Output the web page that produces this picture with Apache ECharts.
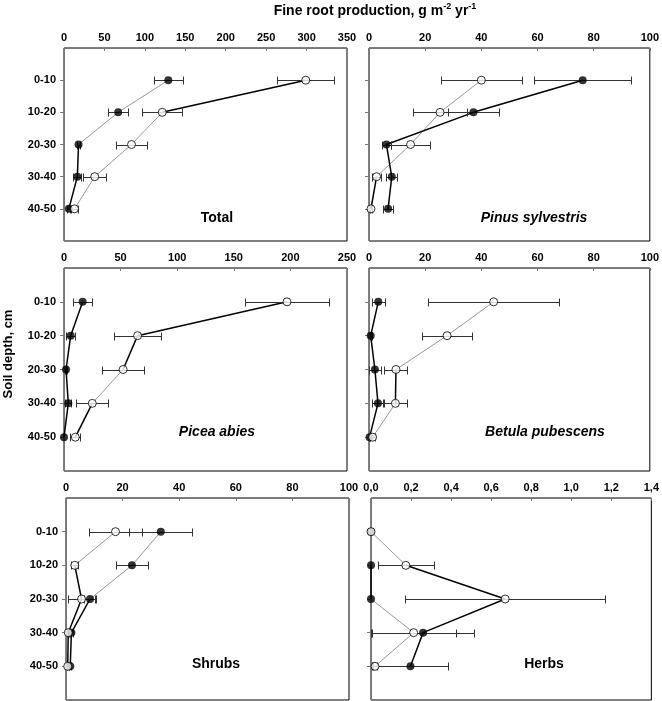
<!DOCTYPE html>
<html>
<head>
<meta charset="utf-8">
<script src="https://cdn.jsdelivr.net/npm/echarts@6/dist/echarts.min.js"></script>
<style>
html,body{margin:0;padding:0;background:#fff;}
#c{width:662px;height:701px;}
</style>
</head>
<body>
<div id="c"></div>
<script>
// ---- data ----
const depths = ['0-10', '10-20', '20-30', '30-40', '40-50'];

const totalFilled = [129, 67, 18, 16.5, 6];
const totalFilledSE = [18, 12, 2, 5, 2];
const totalOpen = [299, 121.5, 83.5, 38, 13];
const totalOpenSE = [35, 24.5, 19.5, 14, 4];

const pinusFilled = [76.1, 37.2, 6.2, 8.1, 6.8];
const pinusFilledSE = [17.2, 9.1, 1.7, 2, 1.9];
const pinusOpen = [40, 25.3, 14.8, 2.7, 0.7];
const pinusOpenSE = [14.5, 9.5, 7, 1.5, 0.5];

const piceaFilled = [16.5, 5.9, 1.8, 3.8, 0];
const piceaFilledSE = [8.6, 4, 0.5, 2.5, 0];
const piceaOpen = [197, 65, 52.2, 25, 10];
const piceaOpenSE = [37, 20.8, 18.6, 14, 4.5];

const betulaFilled = [3.3, 0.6, 2.1, 3.2, 0.2];
const betulaFilledSE = [2.4, 0.3, 2, 2.2, 0.1];
const betulaOpen = [44.4, 27.8, 9.6, 9.4, 1.3];
const betulaOpenSE = [23.4, 8.8, 4.1, 4.3, 0.8];

const shrubsFilled = [33.5, 23.3, 8.5, 1.9, 1.5];
const shrubsFilledSE = [11.1, 5.5, 2.2, 0.5, 0.4];
const shrubsOpen = [17.5, 3.1, 5.5, 0.8, 0.6];
const shrubsOpenSE = [9.5, 1.25, 4.7, 0.4, 0.3];

const herbsFilled = [0, 0, 0, 0.26, 0.197];
const herbsFilledSE = [0, 0, 0, 0.255, 0.19];
const herbsOpen = [0, 0.174, 0.67, 0.213, 0.02];
const herbsOpenSE = [0, 0.139, 0.5, 0.212, 0.01];

// x-axis ticks
const totalTicks = {max: 350, interval: 50};
const pinusTicks = {max: 100, interval: 20};
const piceaTicks = {max: 250, interval: 50};
const betulaTicks = {max: 100, interval: 20};
const shrubsTicks = {max: 100, interval: 20};
const herbsTicks = {max: 1.4, interval: 0.2};

// ---- panel layout / connection styles ----
const panels = [
  {name: 'Total', italic: false, f: totalFilled, fe: totalFilledSE, o: totalOpen, oe: totalOpenSE, ax: totalTicks,
   grid: {left: 64, top: 48, width: 283, height: 193}, label: [217, 218], showY: true,
   thick: [['o0','o1'], ['f2','f3','f4']], thin: [['f0','f1','f2'], ['o1','o2','o3','o4']]},
  {name: 'Pinus sylvestris', italic: true, f: pinusFilled, fe: pinusFilledSE, o: pinusOpen, oe: pinusOpenSE, ax: pinusTicks,
   grid: {left: 369, top: 48, width: 283, height: 193}, label: [534, 218], showY: false,
   thick: [['f0','f1','f2','f3','f4'], ['o3','o4']], thin: [['o0','o1','o2','o3']]},
  {name: 'Picea abies', italic: true, f: piceaFilled, fe: piceaFilledSE, o: piceaOpen, oe: piceaOpenSE, ax: piceaTicks,
   grid: {left: 64, top: 268, width: 283, height: 203}, label: [217, 432], showY: true,
   thick: [['f0','f1','f2','f3','f4'], ['o0','o1','o2'], ['o3','o4']], thin: [['o2','o3']]},
  {name: 'Betula pubescens', italic: true, f: betulaFilled, fe: betulaFilledSE, o: betulaOpen, oe: betulaOpenSE, ax: betulaTicks,
   grid: {left: 369, top: 268, width: 283, height: 203}, label: [545, 432], showY: false,
   thick: [['f0','f1','f2','f3','f4'], ['o2','o3']], thin: [['o0','o1','o2'], ['o3','o4']]},
  {name: 'Shrubs', italic: false, f: shrubsFilled, fe: shrubsFilledSE, o: shrubsOpen, oe: shrubsOpenSE, ax: shrubsTicks,
   grid: {left: 66, top: 498, width: 283, height: 202}, label: [216, 664], showY: true,
   thick: [['o1','o2','o3','o4'], ['f2','f3','f4']], thin: [['o0','o1'], ['f0','f1','f2']]},
  {name: 'Herbs', italic: false, f: herbsFilled, fe: herbsFilledSE, o: herbsOpen, oe: herbsOpenSE, ax: herbsTicks,
   grid: {left: 371, top: 498, width: 282, height: 202}, label: [544, 664], showY: false,
   thick: [['o1','o2','f3','f4'], ['f1','f2']], thin: [['o0','o1'], ['f2','o3','o4']]}
];

const FONT = 'Liberation Sans, Arial, sans-serif';
const AXIS_GRAY = '#777';
const grids = [], xAxes = [], yAxes = [], series = [], graphics = [];

function errRender(params, api) {
  const m = api.value(0), y = api.value(1), e = api.value(2);
  if (!e) return null;
  const p1 = api.coord([m - e, y]);
  const p2 = api.coord([m + e, y]);
  const yy = Math.round(p1[1]) + 0.5;
  const x1 = Math.round(p1[0]) + 0.5, x2 = Math.round(p2[0]) + 0.5;
  const h = 4;
  const st = {stroke: '#333', lineWidth: 1};
  return {type: 'group', children: [
    {type: 'line', shape: {x1: x1, y1: yy, x2: x2, y2: yy}, style: st},
    {type: 'line', shape: {x1: x1, y1: yy - h, x2: x1, y2: yy + h}, style: st},
    {type: 'line', shape: {x1: x2, y1: yy - h, x2: x2, y2: yy + h}, style: st}
  ]};
}

panels.forEach((p, i) => {
  grids.push(Object.assign({show: true, borderColor: '#000', borderWidth: 1, backgroundColor: 'transparent'}, p.grid));
  const isHerb = p.ax.max < 10;
  xAxes.push({
    gridIndex: i, type: 'value', position: 'top', min: 0, max: p.ax.max, interval: p.ax.interval,
    axisLine: {show: true, onZero: false, lineStyle: {color: AXIS_GRAY, width: 1}},
    axisTick: {show: true, inside: true, length: 3, lineStyle: {color: AXIS_GRAY}},
    axisLabel: {show: true, fontSize: 11, fontWeight: 'bold', fontFamily: FONT, color: '#000', margin: 5,
      showMinLabel: true, showMaxLabel: true,
      formatter: v => isHerb ? v.toFixed(1).replace('.', ',') : String(Math.round(v))},
    splitLine: {show: false}
  });
  yAxes.push({
    gridIndex: i, type: 'value', min: 0, max: 6, interval: 1, inverse: true,
    axisLine: {show: true, onZero: false, lineStyle: {color: AXIS_GRAY, width: 1}},
    axisTick: {show: true, length: 4, customValues: [1, 2, 3, 4, 5], lineStyle: {color: AXIS_GRAY}},
    axisLabel: {show: p.showY, customValues: [1, 2, 3, 4, 5], fontSize: 11, fontWeight: 'bold', fontFamily: FONT,
      color: '#000', margin: 8, formatter: v => depths[v - 1] || ''},
    splitLine: {show: false}
  });
  const pt = ref => {
    const k = +ref[1];
    return [ref[0] === 'f' ? p.f[k] : p.o[k], k + 1];
  };
  p.thin.forEach(path => series.push({
    type: 'line', xAxisIndex: i, yAxisIndex: i, data: path.map(pt), symbol: 'none', silent: true,
    lineStyle: {color: '#8c8c8c', width: 0.9}, z: 2, animation: false
  }));
  p.thick.forEach(path => series.push({
    type: 'line', xAxisIndex: i, yAxisIndex: i, data: path.map(pt), symbol: 'none', silent: true,
    lineStyle: {color: '#000', width: 1.5}, z: 2, animation: false
  }));
  [[p.f, p.fe], [p.o, p.oe]].forEach(([vals, ses]) => series.push({
    type: 'custom', xAxisIndex: i, yAxisIndex: i, renderItem: errRender, encode: {x: 0, y: 1},
    data: vals.map((v, k) => [v, k + 1, ses[k]]), z: 3, silent: true, animation: false
  }));
  series.push({
    type: 'scatter', xAxisIndex: i, yAxisIndex: i, symbol: 'circle', symbolSize: 8,
    data: p.f.map((v, k) => [v, k + 1]), itemStyle: {color: '#000'}, z: 4, silent: true, animation: false
  });
  series.push({
    type: 'scatter', xAxisIndex: i, yAxisIndex: i, symbol: 'circle', symbolSize: 8,
    data: p.o.map((v, k) => [v, k + 1]), itemStyle: {color: '#fff', borderColor: '#000', borderWidth: 1},
    z: 5, silent: true, animation: false
  });
  graphics.push({
    type: 'text', x: p.label[0], y: p.label[1], z: 10,
    style: {text: p.name, fontSize: 14, fontWeight: 'bold', fontStyle: p.italic ? 'italic' : 'normal',
      fontFamily: FONT, fill: '#000', align: 'center', verticalAlign: 'middle'}
  });
});

graphics.push({
  type: 'text', x: 375, y: 11, z: 10,
  style: {
    text: 'Fine root production, g m{sup|-2} yr{sup|-1}',
    fontSize: 14, fontWeight: 'bold', fontFamily: FONT, fill: '#000', align: 'center', verticalAlign: 'middle',
    rich: {sup: {fontSize: 9, fontWeight: 'bold', fontFamily: FONT, fill: '#000', padding: [0, 0, 9, 0]}}
  }
});
graphics.push({
  type: 'text', x: 8, y: 354, rotation: Math.PI / 2, z: 10,
  style: {text: 'Soil depth, cm', fontSize: 13, fontWeight: 'bold', fontFamily: FONT, fill: '#000',
    align: 'center', verticalAlign: 'middle'}
});

const chart = echarts.init(document.getElementById('c'), null, {renderer: 'canvas'});
chart.setOption({
  animation: false,
  backgroundColor: '#fff',
  grid: grids,
  xAxis: xAxes,
  yAxis: yAxes,
  series: series,
  graphic: graphics
});
</script>
</body>
</html>
